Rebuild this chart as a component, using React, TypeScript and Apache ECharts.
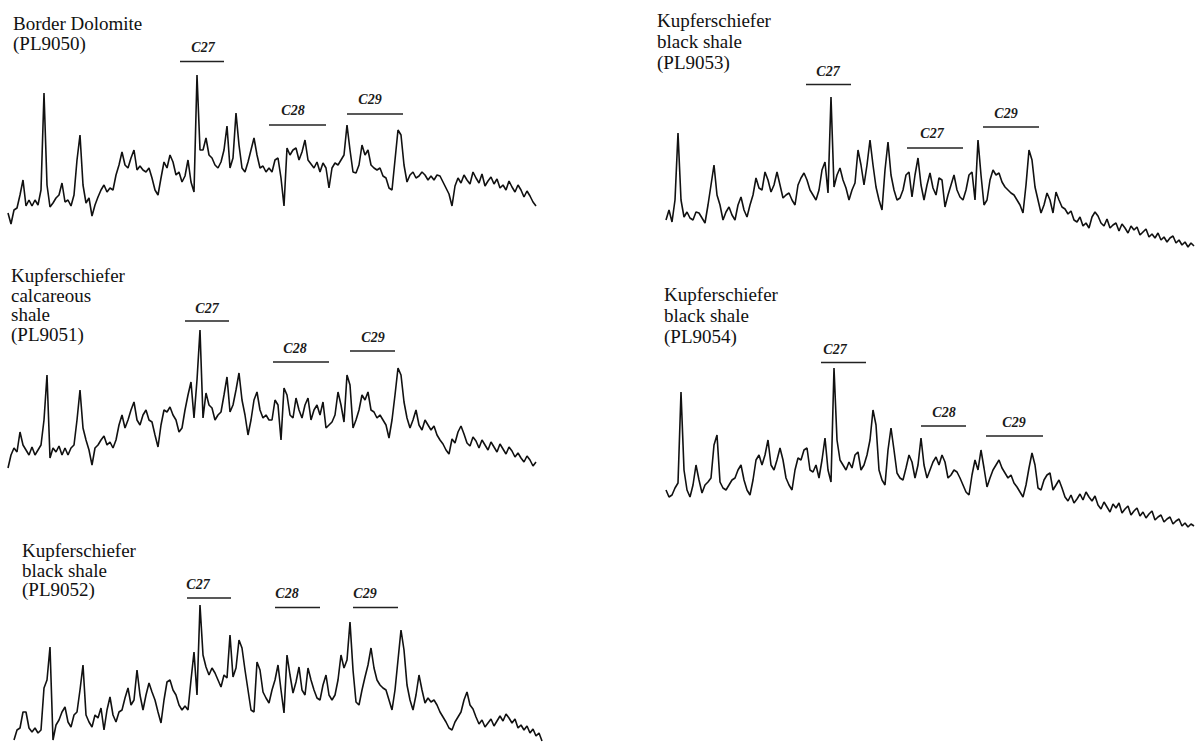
import React, { useEffect, useRef } from "react";
import * as echarts from "echarts";

// Sterane (m/z 217) traces, abundance sampled at equal scan steps
const tracePL9050 = [17,6,20,22,35,50,24,30,24,30,25,40,137,45,23,27,32,35,47,28,30,24,35,70,95,45,27,32,14,25,33,40,45,38,42,40,55,65,78,65,62,72,80,60,64,60,58,62,52,40,35,52,68,62,75,68,55,58,48,54,70,48,38,155,80,80,92,75,72,65,62,68,80,104,62,72,117,85,62,58,68,80,92,75,62,64,58,62,58,70,72,52,24,82,75,80,82,70,78,90,70,66,62,68,58,67,62,42,62,67,65,70,75,105,80,58,57,65,85,75,80,65,62,60,62,54,52,42,40,70,100,95,65,48,55,58,52,54,58,55,50,54,50,55,54,48,42,36,24,44,52,47,55,50,46,58,52,47,56,44,49,53,46,51,42,45,40,49,43,38,45,40,33,39,34,28,24];
const tracePL9051 = [2,15,22,18,38,25,20,15,23,15,20,25,50,95,12,22,18,24,15,22,15,22,25,50,80,42,30,20,5,22,25,30,34,25,28,22,30,45,55,42,50,60,68,50,45,55,60,50,48,35,23,45,60,58,63,55,50,38,42,60,75,88,52,90,140,52,77,65,62,50,55,58,75,93,58,65,80,97,70,55,35,50,70,78,60,52,55,50,50,70,65,30,82,75,55,52,72,60,52,65,72,50,60,65,55,68,42,45,48,55,78,65,48,95,85,42,50,60,75,70,78,60,58,52,55,50,45,32,50,75,102,95,68,52,42,50,60,45,40,50,45,40,44,35,30,26,20,16,31,27,38,44,36,27,24,33,29,22,30,25,20,28,23,18,26,21,16,23,19,13,17,12,8,14,10,4,8];
const tracePL9052 = [5,15,17,33,33,17,13,17,12,15,57,65,98,5,20,25,33,38,23,18,30,33,55,80,30,23,18,30,27,37,15,35,48,30,23,33,35,47,57,40,45,75,50,35,50,62,53,45,33,22,45,63,65,55,50,40,35,39,35,65,93,50,140,90,78,70,77,72,65,58,70,67,110,68,77,105,97,75,55,35,33,83,75,53,47,42,55,65,80,55,32,90,70,52,63,78,55,50,77,65,55,47,45,60,70,50,45,50,65,90,77,85,123,75,43,40,55,68,80,97,77,65,60,57,55,45,35,55,85,115,95,60,45,35,50,70,55,42,47,43,45,40,33,28,23,17,15,23,28,33,45,53,40,36,28,21,25,18,22,26,19,24,29,24,31,27,22,26,17,20,15,19,12,16,9,12,4];
const tracePL9053 = [30,40,28,50,117,50,33,38,32,30,38,37,32,27,45,65,85,55,45,30,38,43,35,30,45,53,40,33,45,55,72,62,60,78,70,58,65,78,65,52,55,57,50,45,65,72,77,70,60,55,50,60,80,88,57,153,63,75,82,70,62,50,60,67,100,85,65,85,110,85,63,50,40,80,108,75,60,50,52,60,75,78,53,75,92,65,50,65,77,62,55,72,70,43,55,65,75,60,53,50,60,75,78,50,110,75,45,50,70,80,75,77,68,63,60,57,55,50,45,37,65,100,90,63,50,37,45,57,50,37,58,50,43,41,36,39,30,28,33,24,27,22,33,38,34,27,24,31,22,25,27,19,26,22,17,24,20,23,15,18,21,13,16,12,17,10,13,8,12,14,7,10,5,8,3,7,4];
const tracePL9054 = [40,33,35,42,47,138,60,40,33,45,65,50,37,45,48,52,85,95,48,42,40,45,50,52,60,65,50,40,35,50,70,75,65,75,90,65,60,70,82,70,52,45,40,60,72,70,80,82,60,58,65,52,70,92,60,48,162,90,70,65,60,68,62,75,78,60,65,75,90,120,105,60,50,45,80,102,80,57,52,50,62,75,68,52,65,92,65,52,60,68,73,65,75,68,52,55,60,58,52,45,38,35,55,70,60,80,62,43,52,60,65,70,62,57,52,55,47,43,38,33,45,62,77,65,42,40,50,55,57,40,45,50,42,33,29,35,27,31,36,30,38,33,29,34,25,21,28,23,18,26,22,27,17,21,24,15,19,22,14,18,12,16,19,10,13,15,8,11,13,6,9,11,4,7,3,6,4];

// Sample names and sterane group labels
const sampleTitles = [
  "Border Dolomite\n(PL9050)",
  "Kupferschiefer\ncalcareous\nshale\n(PL9051)",
  "Kupferschiefer\nblack shale\n(PL9052)",
  "Kupferschiefer\nblack shale\n(PL9053)",
  "Kupferschiefer\nblack shale\n(PL9054)",
];
const groupLabels = [
  ["C27", "C28", "C29"],
  ["C27", "C28", "C29"],
  ["C27", "C28", "C29"],
  ["C27", "C27", "C29"],
  ["C27", "C28", "C29"],
];
const traces = [tracePL9050, tracePL9051, tracePL9052, tracePL9053, tracePL9054];

// Layout (pixels)
const panelLayout = [
  { left: 8, right: 536, top: 60, height: 170, titleX: 13, titleY: 13, lh: 20,
    groups: [[203, 47, 180, 224, 61.5], [293, 110, 269, 326, 125], [370, 99, 347, 403, 114]] },
  { left: 8, right: 536, top: 320, height: 150, titleX: 11, titleY: 266, lh: 19.5,
    groups: [[207, 308, 185, 229, 321], [295, 348, 273, 329, 362], [373, 337, 350, 395, 351]] },
  { left: 14, right: 542, top: 595, height: 150, titleX: 22, titleY: 541, lh: 19.5,
    groups: [[198, 584, 187, 231, 598], [287, 593, 275, 320, 607.5], [365, 593, 353, 398, 607.5]] },
  { left: 666, right: 1194, top: 90, height: 160, titleX: 657, titleY: 10, lh: 21,
    groups: [[828, 71, 806, 851, 84.5], [932, 133, 907, 963, 148], [1006, 113, 983, 1039, 127]] },
  { left: 666, right: 1194, top: 355, height: 175, titleX: 664, titleY: 284, lh: 21,
    groups: [[835, 349, 821, 866, 362.5], [944, 412, 921, 966, 426], [1014, 422, 986, 1043, 436]] },
];

export default function App() {
  const ref = useRef<HTMLDivElement>(null);
  useEffect(() => {
    if (!ref.current) return;
    const chart = echarts.init(ref.current, null, { renderer: "svg" });
    const grids: any[] = [];
    const xAxes: any[] = [];
    const yAxes: any[] = [];
    const series: any[] = [];
    const graphics: any[] = [];
    panelLayout.forEach((p, i) => {
      const vals = traces[i];
      grids.push({ left: p.left, top: p.top, width: p.right - p.left, height: p.height });
      xAxes.push({ type: "category", gridIndex: i, show: false, boundaryGap: false, data: vals.map((_, k) => k) });
      yAxes.push({ type: "value", gridIndex: i, show: false, min: 0, max: p.height });
      series.push({
        type: "line", xAxisIndex: i, yAxisIndex: i, data: vals, showSymbol: false, smooth: false,
        lineStyle: { color: "#111", width: 1.6 }, silent: true, clip: false,
      });
      graphics.push({
        type: "text", x: p.titleX, y: p.titleY,
        style: { text: sampleTitles[i], font: '19px "Liberation Serif"', lineHeight: p.lh, fill: "#111", verticalAlign: "top", align: "left" },
      });
      p.groups.forEach((g, j) => {
        graphics.push({
          type: "text", x: g[0], y: g[1],
          style: { text: groupLabels[i][j], font: 'italic bold 14px "Liberation Serif"', fill: "#1a1a1a", align: "center", verticalAlign: "middle" },
        });
        graphics.push({
          type: "line", shape: { x1: g[2], y1: g[4], x2: g[3], y2: g[4] },
          style: { stroke: "#222", lineWidth: 1.4 },
        });
      });
    });
    chart.setOption({
      animation: false,
      backgroundColor: "#ffffff",
      grid: grids,
      xAxis: xAxes,
      yAxis: yAxes,
      series,
      graphic: graphics,
    });
    return () => chart.dispose();
  }, []);
  return <div ref={ref} style={{ position: "fixed", left: 0, top: 0, width: 1198, height: 746, background: "#fff" }} />;
}
